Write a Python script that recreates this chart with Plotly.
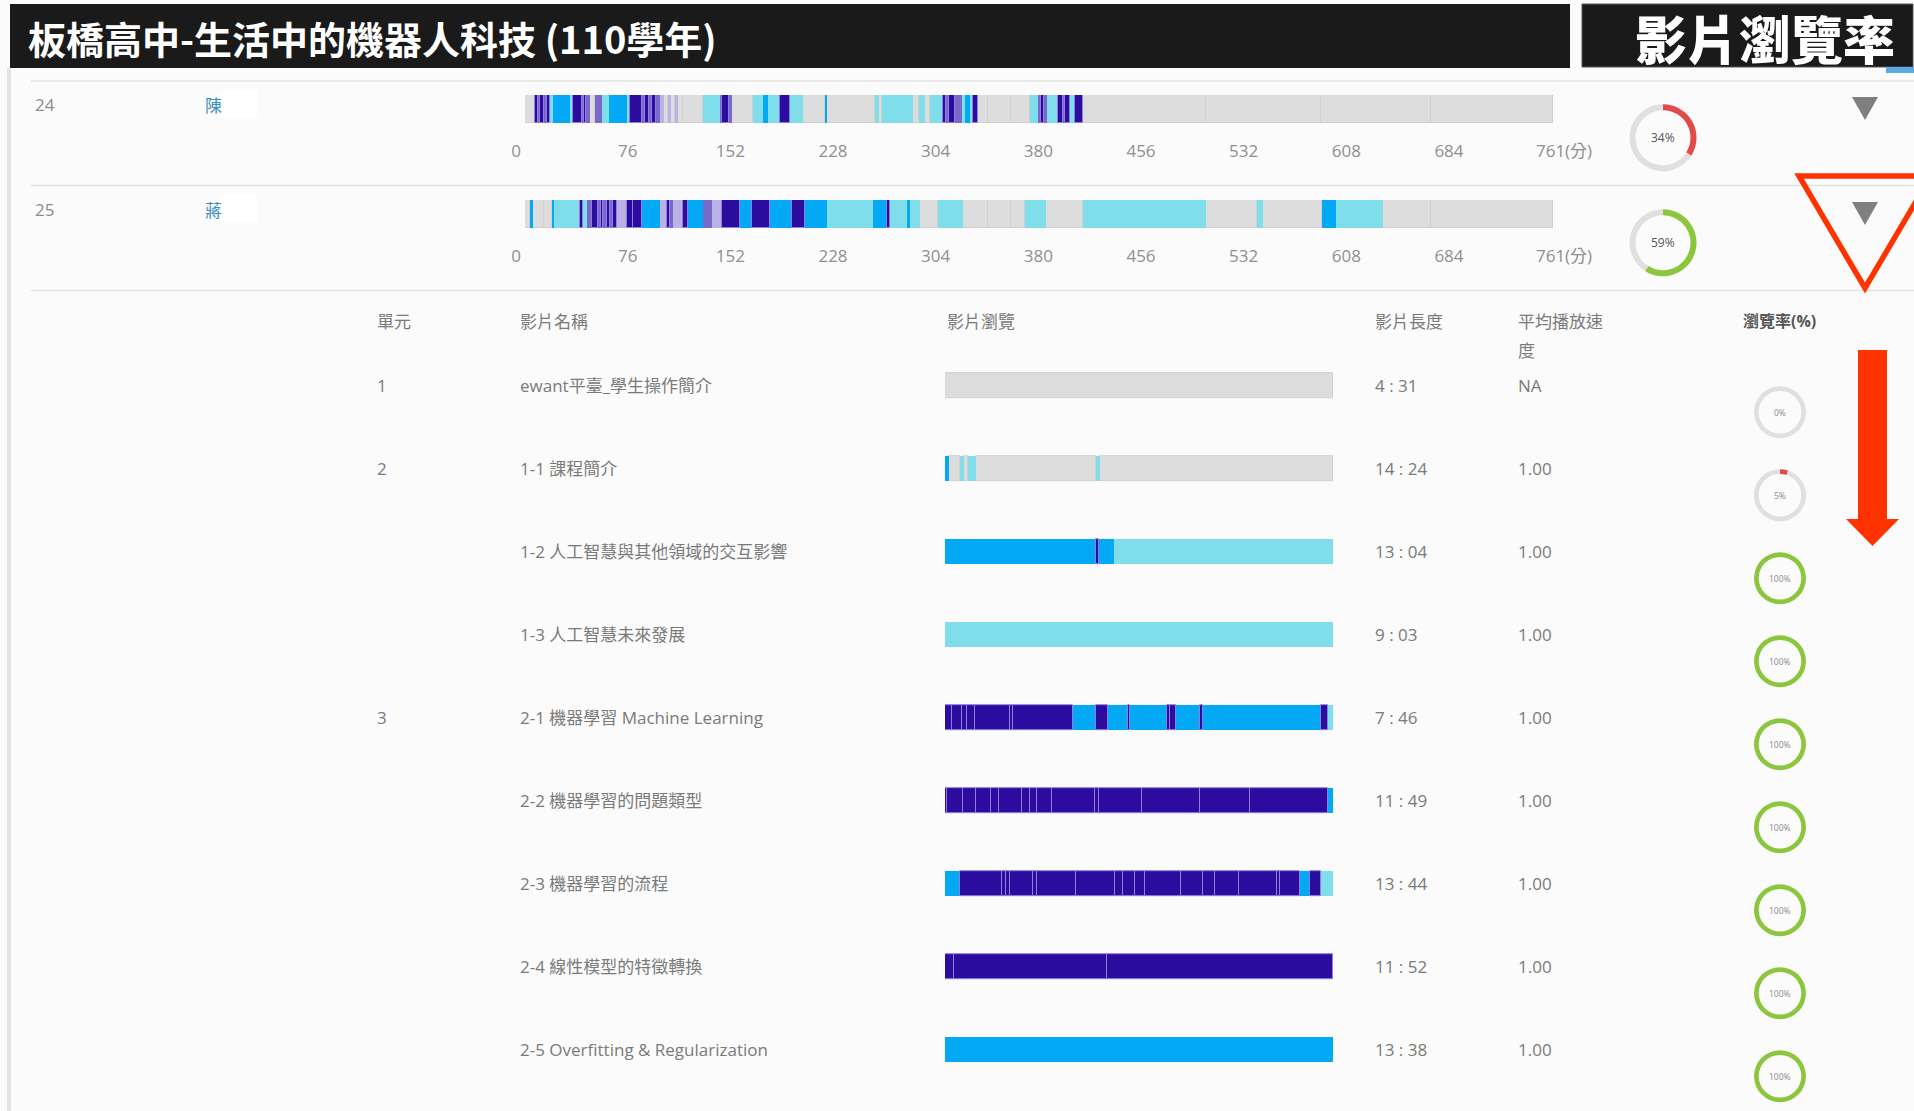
import plotly.graph_objects as go

# ------------------------------------------------------------------ data
title_text = "板橋高中-生活中的機器人科技 (110學年)"
badge_text = "影片瀏覽率"

student_ids = ["24", "25"]
student_names = ["陳", "蔣"]
student_rates = [34, 59]

course_ticks = [0, 76, 152, 228, 304, 380, 456, 532, 608, 684, 761]
course_tick_labels = ["0", "76", "152", "228", "304", "380", "456", "532", "608", "684", "761(分)"]
course_total = 761

# viewing segments of the whole course (minutes): segment end + view level
# g = not viewed, c = viewed once, b = twice, d = 3+ times, p / l = mixed dense views
row24_seg_end = [7.4, 9.6, 11, 14, 16, 18.5, 20.7, 33.3, 35.5, 42.2, 44, 45.5, 48.1, 51.8, 57.0, 62.2,
                 75.5, 77.7, 86.6, 89, 92, 94, 97, 99.9, 103, 106, 108, 111, 113, 117, 131.8, 144.4,
                 146, 151, 153.2, 168.8, 176.2, 179.9, 188.8, 196.2, 205.8, 222.1, 223.6, 259.1, 262,
                 264, 287.2, 292, 296, 300, 309.4, 312, 314, 318, 323.5, 325.7, 329.4, 331.7, 335.4,
                 343, 360, 373.9, 379.8, 382, 384, 386.4, 394.6, 398, 400, 403.5, 407.2, 413.1, 504,
                 589, 671, 761]
row24_seg_view = ("g d p d p d c b c d p d p g p c "
                  "b c d p d p d p l g l g l g g c "
                  "p d p g c b c d c g b g c "
                  "g c g c g c d p d p c b c d "
                  "g g g c p d p c d p d c d g "
                  "g g g").split()

row25_seg_end = [3.7, 5.9, 14, 20.0, 21.5, 40.7, 42.9, 46, 49.6, 54.0, 56, 58, 60.7, 63, 65, 68.1,
                 75.5, 80, 86.6, 99.9, 105.1, 107, 109.6, 117, 120.7, 131.8, 138.4, 145.8, 159.2,
                 168.0, 181.4, 197.7, 207.3, 223.6, 257.6, 268.0, 270.2, 282.8, 285.0, 292.4, 305.7,
                 324.2, 343, 360, 370.2, 385.7, 413.1, 504.1, 541.9, 546.3, 590.0, 600.4, 635.2,
                 671, 761]
row25_seg_view = ("g b g g b c d c p d p d p d p d "
                  "l d d b l d p l d b p l d "
                  "b d b d b c b d c b c g "
                  "c g g g c g c g c g b c "
                  "g g").split()

units = ["1", "2", "", "", "3", "", "", "", ""]
video_names = ["ewant平臺_學生操作簡介", "1-1 課程簡介", "1-2 人工智慧與其他領域的交互影響",
               "1-3 人工智慧未來發展", "2-1 機器學習 Machine Learning", "2-2 機器學習的問題類型",
               "2-3 機器學習的流程", "2-4 線性模型的特徵轉換", "2-5 Overfitting & Regularization"]
video_lengths = ["4 : 31", "14 : 24", "13 : 04", "9 : 03", "7 : 46", "11 : 49", "13 : 44", "11 : 52", "13 : 38"]
video_speeds = ["NA", "1.00", "1.00", "1.00", "1.00", "1.00", "1.00", "1.00", "1.00"]
video_rates = [0, 5, 100, 100, 100, 100, 100, 100, 100]

# per-video viewing segments (% of the video): segment end + view level
v0_end = [100]
v0_view = ["g"]
v1_end = [1.1, 3.9, 4.9, 6.0, 8.0, 39.0, 40.0, 100]
v1_view = ["b", "g", "c", "g", "c", "g", "c", "g"]
v2_end = [39.0, 39.8, 43.6, 100]
v2_view = ["b", "d", "b", "c"]
v3_end = [100]
v3_view = ["c"]
v4_end = [1.7, 4.3, 5.6, 7.7, 16.8, 17.6, 32.9, 39.0, 41.9, 47.1, 47.7, 57.2, 58.0, 59.6, 65.8, 66.6, 97.0, 98.7, 100]
v4_view = ["d", "d", "d", "d", "d", "d", "d", "b", "d", "b", "d", "b", "d", "d", "b", "d", "b", "d", "c"]
v5_end = [0.4, 4.7, 8.0, 11.8, 13.8, 19.8, 21.9, 23.6, 27.7, 38.7, 39.8, 50.7, 65.6, 78.7, 98.7, 100]
v5_view = ["d"] * 15 + ["b"]
v6_end = [3.9, 14.6, 15.7, 16.8, 22.8, 23.6, 33.8, 43.9, 45.8, 49.0, 51.6, 60.9, 66.6, 69.5, 75.7, 85.6,
          86.4, 91.4, 94.0, 97.0, 100]
v6_view = ["b"] + ["d"] * 17 + ["b", "d", "c"]
v7_end = [2.3, 41.7, 100]
v7_view = ["d", "d", "d"]
v8_end = [100]
v8_view = ["b"]

video_seg_end = [v0_end, v1_end, v2_end, v3_end, v4_end, v5_end, v6_end, v7_end, v8_end]
video_seg_view = [v0_view, v1_view, v2_view, v3_view, v4_view, v5_view, v6_view, v7_view, v8_view]

# ------------------------------------------------------------------ styling / layout helpers
W, H = 1914, 1111
FONT = "Open Sans, Noto Sans CJK TC, sans-serif"
CJK = "Noto Sans CJK TC, sans-serif"
BG = "#fbfbfb"
NBSP = "\u00a0"


def px(x):
    return x / W


def py(y):
    return 1 - y / H


VIEW_COLOR = {"g": "#dddddd", "c": "#80deea", "b": "#03a9f4", "p": "#7a69c9", "l": "#bab2e4", "d": "#2b0c9f"}
VIEW_LINE = {"g": ("#cfcfcf", 1), "d": ("#8e7fe0", 1)}

# tick label placement nudges (first label sits left of its tick, the unit label to the right)
tick_text_shown = list(course_tick_labels)
tick_text_shown[0] = tick_text_shown[0] + NBSP * 4
tick_text_shown[-1] = NBSP * 5 + tick_text_shown[-1]

fig = go.Figure()


def add_segments(ends, views, yval, xa, ya, width):
    starts = [0] + list(ends[:-1])
    for code in ["g", "c", "b", "p", "l", "d"]:
        idx = [i for i, v in enumerate(views) if v == code]
        if not idx:
            continue
        lc, lw = VIEW_LINE.get(code, (VIEW_COLOR[code], 0))
        fig.add_trace(go.Bar(
            orientation="h", y=[yval] * len(idx),
            base=[starts[i] for i in idx], x=[ends[i] - starts[i] for i in idx],
            width=width, marker=dict(color=VIEW_COLOR[code], line=dict(color=lc, width=lw)),
            xaxis=xa, yaxis=ya, showlegend=False, hoverinfo="skip"))


annotations = []
shapes = []


def note(x, y, text, font, xanchor="left", yref="paper"):
    annotations.append(dict(x=x, y=y, xref="paper", yref=yref, xanchor=xanchor, yanchor="middle",
                            text=text, showarrow=False, font=font))


def add_donut(cx, cy, r, pct, hole, fsize, fcolor):
    col = "#e24b4b" if pct < 50 else "#8cc63f"
    fig.add_trace(go.Pie(
        values=[pct, 100 - pct], marker=dict(colors=[col, "#e0e0e0"]), hole=hole,
        sort=False, direction="clockwise", rotation=0, textinfo="none", hoverinfo="skip",
        showlegend=False, automargin=False,
        domain=dict(x=[px(cx - r), px(cx + r)], y=[py(cy + r), py(cy - r)])))
    note(px(cx), py(cy), f"{pct}%", dict(size=fsize, color=fcolor, family=FONT), xanchor="center")


# ------------------------------------------------------------------ top: course-wide rows
BAR_X0, BAR_X1 = 525, 1553
ROW_TOPS = [95, 200]
BAR_H = 27.5
DOM_H = 44
row_segs = [(row24_seg_end, row24_seg_view), (row25_seg_end, row25_seg_view)]
layout_axes = {}
for k, top in enumerate(ROW_TOPS):
    xa = "x" if k == 0 else "x2"
    ya = "y" if k == 0 else "y2"
    ends, views = row_segs[k]
    add_segments(ends, views, 0, xa, ya, 1)
    units_per_px = 1 / BAR_H
    layout_axes["xaxis" if k == 0 else "xaxis2"] = dict(
        domain=[px(BAR_X0), px(BAR_X1)], range=[0, course_total], anchor=ya,
        tickvals=course_ticks, ticktext=tick_text_shown, ticks="", showgrid=False,
        zeroline=False, showline=False, fixedrange=True, automargin=False,
        tickfont=dict(size=17, color="#8f8f8f", family=FONT))
    layout_axes["yaxis" if k == 0 else "yaxis2"] = dict(
        domain=[py(top + DOM_H), py(top)], range=[0.5 - DOM_H * units_per_px, 0.5],
        anchor=xa, visible=False, fixedrange=True, automargin=False)

    cy = top + BAR_H / 2
    note(px(33), py(cy - 4), student_ids[k], dict(size=17, color="#8c8c8c", family=FONT))
    note(px(203), py(cy - 4), student_names[k], dict(size=17, color="#3d8fc2", family=CJK))
    add_donut(1663, cy + 29, 33.5, student_rates[k], 0.82, 12, "#555555")
    # white mask box beside the name
    shapes.append(dict(type="rect", xref="paper", yref="paper", x0=px(220), x1=px(257),
                       y0=py(cy + 9), y1=py(cy - 19), fillcolor="white", line=dict(width=0)))
    # expand triangle
    ty = top + 2
    shapes.append(dict(type="path", xref="paper", yref="paper",
                       path=f"M {px(1852)} {py(ty)} L {px(1878)} {py(ty)} L {px(1865)} {py(ty + 23)} Z",
                       fillcolor="#7f7f7f", line=dict(width=0)))

# ------------------------------------------------------------------ table
TAB_X0, TAB_X1 = 945, 1333
TAB_Y0, ROW_DY = 385.7, 83.0
NROW = len(video_names)
for i in range(NROW):
    add_segments(video_seg_end[i], video_seg_view[i], i, "x3", "y3", 0.31)

layout_axes["xaxis3"] = dict(domain=[px(TAB_X0), px(TAB_X1)], range=[0, 100], anchor="y3",
                             visible=False, fixedrange=True, automargin=False)
layout_axes["yaxis3"] = dict(domain=[py(TAB_Y0 + (NROW - 1) * ROW_DY + ROW_DY / 2),
                                     py(TAB_Y0 - ROW_DY / 2)],
                             range=[NROW - 0.5, -0.5], anchor="x3", visible=False, fixedrange=True,
                             automargin=False)

HEAD_Y = 321
head_font = dict(size=17, color="#7a7a7a", family=FONT)
for txt, x in [("單元", 375), ("影片名稱", 518), ("影片瀏覽", 945), ("影片長度", 1373),
               ("平均播放速", 1516)]:
    note(px(x), py(HEAD_Y), txt, head_font)
note(px(1516), py(351), "度", head_font)
note(px(1741), py(HEAD_Y), "<b>瀏覽率(%)</b>", dict(size=16, color="#555555", family=FONT))

cell_font = dict(size=17, color="#7a7a7a", family=FONT)
for i in range(NROW):
    for txt, x in [(units[i], 375), (video_names[i], 518), (video_lengths[i], 1373),
                   (video_speeds[i], 1516)]:
        if txt:
            note(px(x), i, txt, cell_font, yref="y3")
    add_donut(1780, TAB_Y0 + ROW_DY * i + 26.5, 26, video_rates[i], 0.82, 8.5, "#8a8a8a")

# ------------------------------------------------------------------ decorations
# title bar + badge
shapes.append(dict(type="rect", xref="paper", yref="paper", x0=px(10), x1=px(1570),
                   y0=py(68), y1=py(4), fillcolor="#1a1a1a", line=dict(width=0)))
shapes.append(dict(type="rect", xref="paper", yref="paper", x0=px(1582), x1=px(1913),
                   y0=py(67), y1=py(4), fillcolor="#1a1a1a", line=dict(color="#555555", width=1)))
shapes.append(dict(type="rect", xref="paper", yref="paper", x0=px(1886), x1=px(1914),
                   y0=py(73), y1=py(67), fillcolor="#5aaae8", line=dict(width=0)))
note(px(26), py(37), title_text, dict(size=38, color="white", family=CJK, weight=700))
note(px(1765), py(37), badge_text, dict(size=52, color="white", family=CJK, weight=900),
     xanchor="center")

# left border + separators
shapes.append(dict(type="rect", xref="paper", yref="paper", x0=px(7), x1=px(11),
                   y0=py(1111), y1=py(68), fillcolor="#e4e4e4", line=dict(width=0)))
for yy in [81, 185.5, 290.5]:
    shapes.append(dict(type="line", xref="paper", yref="paper", x0=px(31), x1=px(1914),
                       y0=py(yy), y1=py(yy), line=dict(color="#e2e2e2", width=1.5)))

# red callout triangle and arrow
shapes.append(dict(type="path", xref="paper", yref="paper",
                   path=f"M {px(1799)} {py(176)} L {px(1931)} {py(176)} L {px(1865)} {py(288)} Z",
                   line=dict(color="#ff3300", width=5.5)))
shapes.append(dict(type="path", xref="paper", yref="paper",
                   path=(f"M {px(1858)} {py(350)} L {px(1887)} {py(350)} L {px(1887)} {py(519)} "
                         f"L {px(1899)} {py(519)} L {px(1872.5)} {py(546)} L {px(1846)} {py(519)} "
                         f"L {px(1858)} {py(519)} Z"),
                   fillcolor="#ff3300", line=dict(width=0)))

fig.update_layout(
    width=W, height=H, margin=dict(l=0, r=0, t=0, b=0, pad=0, autoexpand=False),
    paper_bgcolor=BG, plot_bgcolor=BG, barmode="overlay", bargap=0,
    font=dict(family=FONT), showlegend=False,
    annotations=annotations, shapes=shapes, **layout_axes)

fig.write_html("out.html", config={"displayModeBar": False, "responsive": False},
               post_script="document.body.style.margin='0px';document.body.style.overflow='hidden';")
